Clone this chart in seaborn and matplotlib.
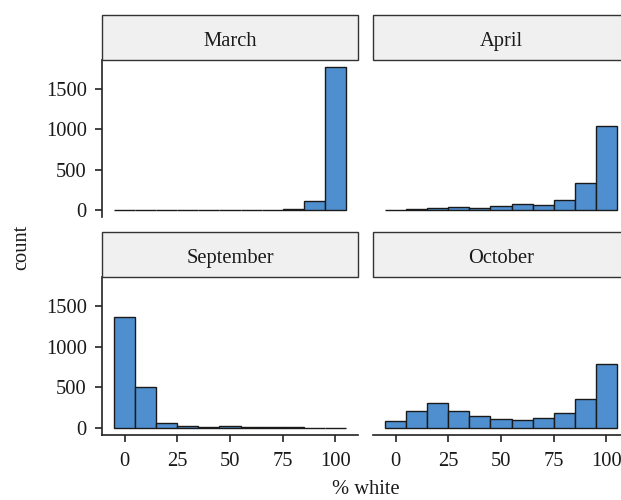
import numpy as np
import pandas as pd
import matplotlib
matplotlib.use("Agg")
import matplotlib.pyplot as plt
from matplotlib.patches import Rectangle
import seaborn as sns

# ---- data (bin centres of % white, counts per month) ----
bin_centers = [0, 10, 20, 30, 40, 50, 60, 70, 80, 90, 100]
march = [2, 1, 1, 1, 1, 1, 1, 2, 6, 110, 1775]
april = [3, 12, 25, 40, 29, 50, 74, 66, 124, 339, 1041]
september = [1368, 508, 62, 20, 10, 20, 8, 8, 5, 2, 1]
october = [83, 202, 302, 211, 149, 107, 91, 116, 178, 355, 789]
months = ["March", "April", "September", "October"]
x_ticks = [0, 25, 50, 75, 100]
y_ticks = [0, 500, 1000, 1500]

series = {"March": march, "April": april, "September": september, "October": october}
df = pd.concat([pd.DataFrame({"month": m, "pct_white": bin_centers, "n": series[m]}) for m in months])

sns.set_theme(style="white")
plt.rcParams["font.family"] = ["Liberation Serif", "DejaVu Serif"]

W, H = 621, 500
fig = plt.figure(figsize=(W / 100, H / 100), dpi=100)

bar_color = "#4f8fcf"
edge_color = "#1a1a1a"
strip_fill = "#f0f0f0"
strip_edge = "#333333"
text_color = "#1a1a1a"
fs = 14.8

# panel positions in pixels: (left, top, right, bottom)
panels = {
    "March": (102, 60, 358, 217),
    "April": (373, 60, 629, 217),
    "September": (102, 277, 358, 435),
    "October": (373, 277, 629, 435),
}
strip_h = 45

ymax = max(max(v) for v in series.values())
ylim = (-0.05 * ymax, ymax * 1.05)
xlim = (-5 - 0.05 * 115, 105 + 0.05 * 115)

for i, m in enumerate(months):
    l, t, r, b = panels[m]
    ax = fig.add_axes([l / W, (H - b) / H, (r - l) / W, (b - t) / H])
    sub = df[df["month"] == m]
    sns.histplot(data=sub, x="pct_white", weights="n", bins=11, binrange=(-5, 105),
                 color=bar_color, edgecolor=edge_color, linewidth=1.0, alpha=1.0, ax=ax)
    ax.set_xlim(*xlim)
    ax.set_ylim(*ylim)
    ax.set_xlabel("")
    ax.set_ylabel("")
    for s in ["top", "right"]:
        ax.spines[s].set_visible(False)
    left_col = m in ("March", "September")
    bottom_row = m in ("September", "October")
    ax.spines["left"].set_visible(left_col)
    ax.spines["bottom"].set_visible(bottom_row)
    for s in ["left", "bottom"]:
        ax.spines[s].set_color("#222222")
        ax.spines[s].set_linewidth(1.2)
    ax.set_xticks(x_ticks)
    ax.set_yticks(y_ticks)
    ax.tick_params(axis="both", direction="out", length=5, width=1.2, color="#222222",
                   labelsize=fs, labelcolor=text_color)
    ax.tick_params(axis="x", bottom=bottom_row, labelbottom=bottom_row, pad=7)
    ax.tick_params(axis="y", left=left_col, labelleft=left_col, pad=6)
    ax.patch.set_alpha(0)

    # strip
    fig.patches.append(Rectangle((l / W, (H - t) / H), (r - l) / W, strip_h / H,
                                 transform=fig.transFigure, facecolor=strip_fill,
                                 edgecolor=strip_edge, linewidth=1.0, zorder=3))
    fig.text((l + r) / 2 / W, (H - t + strip_h / 2 - 4) / H, m, ha="center", va="center",
             fontsize=fs, color=text_color, zorder=4)

fig.text(366 / W, (H - 490) / H, "% white", ha="center", va="center", fontsize=fs, color=text_color)
fig.text(22 / W, (H - 247) / H, "count", ha="center", va="center", rotation=90, fontsize=fs, color=text_color)

fig.savefig("out.png", dpi=100, facecolor="white")
